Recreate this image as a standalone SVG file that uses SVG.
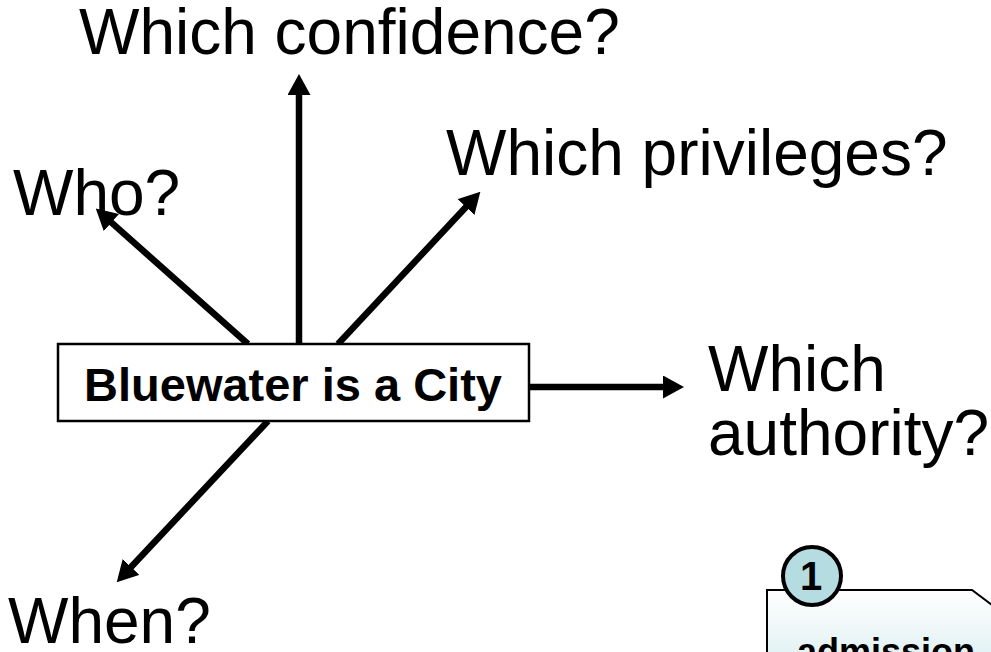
<svg xmlns="http://www.w3.org/2000/svg" width="991" height="652" viewBox="0 0 991 652">
  <style>
    .q { font-family: "Liberation Sans", Arial, sans-serif; font-size: 64px; fill: #000; }
    .title { font-family: "Liberation Sans", Arial, sans-serif; font-size: 47px; font-weight: bold; fill: #000; }
    .conn { stroke: #000; stroke-width: 6.5; fill: none; marker-end: url(#head); }
    .box { fill: #fff; stroke: #000; stroke-width: 2.5; }
  </style>
  <defs>
    <!-- arrowhead anchored at its base, so each line stops where the head begins -->
    <marker id="head" viewBox="0 0 21 23" refX="1" refY="11.5" markerUnits="userSpaceOnUse" markerWidth="21" markerHeight="23" orient="auto">
      <path d="M0,0 L21,11.5 L0,23 Z" fill="#000"/>
    </marker>
    <linearGradient id="noteFill" x1="0" y1="0" x2="0" y2="1">
      <stop offset="0" stop-color="#ffffff"/>
      <stop offset="1" stop-color="#cfe9ec"/>
    </linearGradient>
  </defs>

  <!-- connectors radiating from the statement box -->
  <g id="connectors">
    <line class="conn" x1="299" y1="344" x2="299" y2="94"/>
    <line class="conn" x1="248" y1="344" x2="110.7" y2="221.9"/>
    <line class="conn" x1="338" y1="344" x2="466.7" y2="206.3"/>
    <line class="conn" x1="529" y1="387" x2="664" y2="387"/>
    <line class="conn" x1="268" y1="421" x2="130.4" y2="567.7"/>
  </g>

  <g id="statement">
    <rect class="box" x="58" y="344" width="471" height="77"/>
    <text class="title" x="293" y="401" text-anchor="middle">Bluewater is a City</text>
  </g>

  <g id="q-confidence">
    <text class="q" x="79" y="54">Which confidence?</text>
  </g>
  <g id="q-who">
    <text class="q" x="13" y="215">Who?</text>
  </g>
  <g id="q-privileges">
    <text class="q" x="446" y="175">Which privileges?</text>
  </g>
  <g id="q-authority">
    <text class="q" x="708" y="391">Which</text>
    <text class="q" x="708" y="455">authority?</text>
  </g>
  <g id="q-when">
    <text class="q" x="8" y="643">When?</text>
  </g>

  <!-- numbered note, partly outside the frame -->
  <g id="note-admission">
    <path d="M767,700 L767,590 L972,590 L1000,611 L1000,700 Z" fill="url(#noteFill)" stroke="#000" stroke-width="2"/>
    <text x="886" y="664" text-anchor="middle" font-family="Liberation Sans, Arial, sans-serif" font-size="36" font-weight="bold">admission</text>
    <circle cx="812" cy="576" r="29" fill="#b5dde1" stroke="#000" stroke-width="4"/>
    <text x="811" y="590" text-anchor="middle" font-family="Liberation Sans, Arial, sans-serif" font-size="40" font-weight="bold">1</text>
  </g>
</svg>
